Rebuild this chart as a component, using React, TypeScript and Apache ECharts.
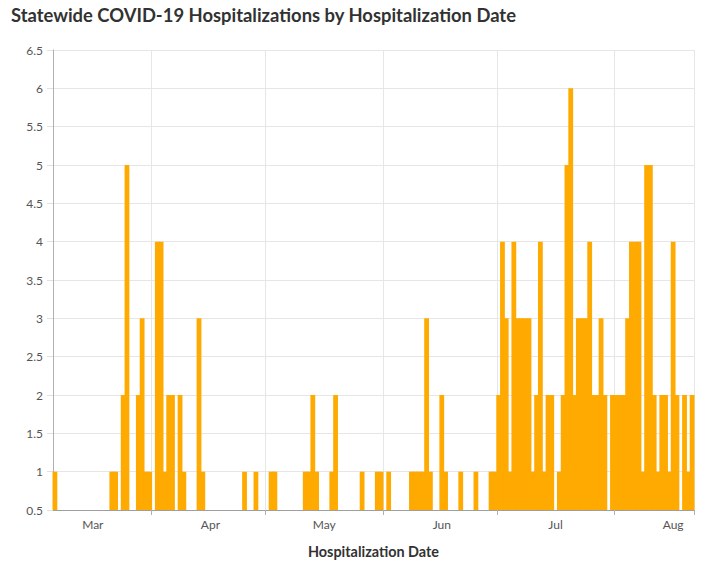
import React, { useEffect, useRef } from "react";
import * as echarts from "echarts";

const TITLE = "Statewide COVID-19 Hospitalizations by Hospitalization Date";
const X_NAME = "Hospitalization Date";
const START_DATE = [2020, 1, 20]; // 2020-02-20 (month 0-based)
const MONTH_NAMES = ["Jan", "Feb", "Mar", "Apr", "May", "Jun", "Jul", "Aug", "Sep", "Oct", "Nov", "Dec"];
const TICK_DATES = ["2020-03-17", "2020-04-16", "2020-05-17", "2020-06-16", "2020-07-17"];

const counts = [
  1, 0, 0, 0, 0, 0, 0, 0, 0, 0,
  0, 0, 0, 0, 0, 1, 1, 0, 2, 5,
  0, 0, 2, 3, 1, 1, 0, 4, 4, 1,
  2, 2, 0, 2, 1, 0, 0, 0, 3, 1,
  0, 0, 0, 0, 0, 0, 0, 0, 0, 0,
  1, 0, 0, 1, 0, 0, 0, 1, 1, 0,
  0, 0, 0, 0, 0, 0, 1, 1, 2, 1,
  0, 0, 0, 1, 2, 0, 0, 0, 0, 0,
  0, 1, 0, 0, 0, 1, 1, 0, 1, 0,
  0, 0, 0, 0, 1, 1, 1, 1, 3, 1,
  0, 0, 2, 1, 0, 0, 0, 1, 0, 0,
  0, 1, 0, 0, 0, 1, 1, 2, 4, 3,
  1, 4, 3, 3, 3, 3, 1, 2, 4, 1,
  2, 2, 0, 1, 2, 5, 6, 2, 3, 3,
  3, 4, 2, 2, 3, 2, 0, 2, 2, 2,
  2, 3, 4, 4, 4, 1, 5, 5, 2, 1,
  2, 2, 1, 4, 2, 0, 2, 1, 2,
];

const categories: string[] = counts.map((_, i) => {
  const d = new Date(Date.UTC(START_DATE[0], START_DATE[1], START_DATE[2] + i));
  return d.toISOString().slice(0, 10);
});

const Y_MIN = 0.5;
const Y_MAX = 6.5;
const Y_STEP = 0.5;

const FONT = "Lato, 'Noto Sans', sans-serif";
const BAR_COLOR = "#FFAA00";

export default function App() {
  const ref = useRef<HTMLDivElement>(null);
  useEffect(() => {
    if (!ref.current) return;
    const chart = echarts.init(ref.current, undefined, { renderer: "svg" });
    chart.setOption({
      animation: false,
      textStyle: { fontFamily: FONT },
      title: {
        text: TITLE,
        left: 6,
        top: 1,
        textStyle: { fontSize: 18.4, fontWeight: "bold", color: "#323232", fontFamily: FONT },
      },
      grid: { left: 53, right: 17, top: 50, bottom: 56, containLabel: false },
      xAxis: {
        type: "category",
        data: categories,
        boundaryGap: true,
        name: X_NAME,
        nameLocation: "middle",
        nameGap: 34,
        nameTextStyle: { fontSize: 14.4, fontWeight: "bold", color: "#323232", fontFamily: FONT },
        axisLine: { show: true, lineStyle: { color: "#9e9e9e", width: 1 } },
        axisTick: {
          show: true,
          length: 5,
          interval: (i: number) => TICK_DATES.includes(categories[i]),
          lineStyle: { color: "#b0b0b0" },
        },
        axisLabel: {
          interval: (i: number, v: string) => v.endsWith("-01"),
          formatter: (v: string) => MONTH_NAMES[parseInt(v.slice(5, 7), 10) - 1],
          color: "#555",
          fontSize: 12,
          margin: 8,
          fontFamily: FONT,
        },
        splitLine: {
          show: true,
          interval: (i: number) => TICK_DATES.includes(categories[i]),
          lineStyle: { color: "#e6e6e6" },
        },
      },
      yAxis: {
        type: "value",
        min: Y_MIN,
        max: Y_MAX,
        interval: Y_STEP,
        axisLine: { show: true, lineStyle: { color: "#b0b0b0" } },
        axisTick: { show: true, length: 6, lineStyle: { color: "#e0e0e0" } },
        axisLabel: { color: "#555", fontSize: 12, margin: 10, fontFamily: FONT },
        splitLine: { show: true, lineStyle: { color: "#e6e6e6" } },
      },
      series: [
        {
          type: "custom",
          data: counts.map((v, i) => [i, v]),
          encode: { x: 0, y: 1 },
          renderItem: (params: any, api: any) => {
            const v = api.value(1);
            if (!v || v <= Y_MIN) return null;
            const top = api.coord([api.value(0), v]);
            const base = api.coord([api.value(0), Y_MIN]);
            const w = api.size([1, 0])[0];
            return {
              type: "rect",
              shape: { x: top[0] - w / 2 - 0.5, y: top[1], width: w + 1, height: base[1] - top[1] },
              style: { fill: BAR_COLOR },
            };
          },
        },
      ],
    });
    return () => chart.dispose();
  }, []);
  return (
    <div
      ref={ref}
      style={{ position: "fixed", left: 0, top: 0, width: 711, height: 566, background: "#fff" }}
    />
  );
}
